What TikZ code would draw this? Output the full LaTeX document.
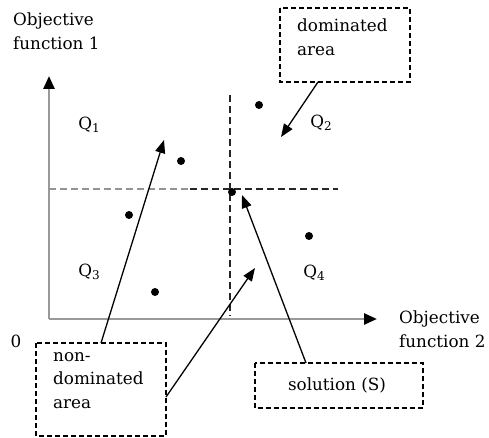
\documentclass[tikz,border=0pt]{standalone}
\usepackage{fontspec}
\setmainfont{DejaVu Serif}
\usetikzlibrary{arrows.meta}
\begin{document}
\begin{tikzpicture}[x=1pt,y=-1pt,
  lbl/.style={font=\fontsize{16.8}{23.5}\selectfont, inner sep=0pt, align=left},
  box/.style={draw, dash pattern=on 5pt off 3pt, line width=1.2pt},
  axis/.style={draw=gray!80, line width=2.6pt, -{Triangle[length=13pt,width=11pt,fill=black,color=black]}},
  ptr/.style={line width=1.3pt, -{Triangle[length=13pt,width=10pt]}},
  dot/.style={circle, fill=black, inner sep=0pt, minimum size=8pt},
  gdash/.style={draw=gray!85, line width=2pt, dash pattern=on 7pt off 4pt},
  kdash/.style={draw=black!85, line width=1.5pt, dash pattern=on 7pt off 4pt}]
\useasboundingbox (0,0) rectangle (489,438);
% axes
\coordinate (O) at (49,319);
\coordinate (Ytop) at (49,76);
\coordinate (Xend) at (377,319);
\draw[axis] (O) -- (Ytop);
\draw[axis] (O) -- (Xend);
% dashed lines
\coordinate (h0) at (49,189);
\coordinate (h1) at (190,189);
\coordinate (h2) at (338,189);
\coordinate (v0) at (230,95);
\coordinate (v1) at (230,316);
\draw[gdash] (h0) -- (h1);
\draw[kdash] (h1) -- (h2);
\draw[kdash] (v0) -- (v1);
% texts
\node[lbl, anchor=north west] (of1) at (13,13) {Objective\\function 1};
\node[lbl, anchor=north west] (of2) at (399,311) {Objective\\function 2};
\node[lbl] (zero) at (16,341) {0};
\node[lbl] (q1) at (89,125) {Q\raisebox{-0.35ex}{\fontsize{12}{12}\selectfont 1}};
\node[lbl] (q2) at (321,123) {Q\raisebox{-0.35ex}{\fontsize{12}{12}\selectfont 2}};
\node[lbl] (q3) at (89,272) {Q\raisebox{-0.35ex}{\fontsize{12}{12}\selectfont 3}};
\node[lbl] (q4) at (314,273) {Q\raisebox{-0.35ex}{\fontsize{12}{12}\selectfont 4}};
% points
\node[dot] (p1) at (181,161) {};
\node[dot] (p2) at (259,105) {};
\node[dot] (p3) at (129,215) {};
\node[dot] (p4) at (309,236) {};
\node[dot] (p5) at (155,292) {};
\node[dot] (S) at (232,192) {};
% boxes
\draw[box] (280,8) rectangle (410,82);
\node[lbl, anchor=north west] (dom) at (297,19) {dominated\\area};
\draw[box] (36,343) rectangle (166,436);
\node[lbl, anchor=north west] (ndom) at (53,352) {non-\\dominated\\area};
\draw[box] (255,363) rectangle (423,408);
\node[lbl] (sol) at (337,385) {solution (S)};
% pointer coordinates
\coordinate (d0) at (318,82);
\coordinate (d1) at (281,137);
\coordinate (n0) at (101,343);
\coordinate (n1) at (164,140);
\coordinate (m0) at (166,397);
\coordinate (m1) at (255,268);
\coordinate (s0) at (306,363);
\coordinate (s1) at (242,195);
\draw[ptr] (d0) -- (d1);
\draw[ptr] (n0) -- (n1);
\draw[ptr] (m0) -- (m1);
\draw[ptr] (s0) -- (s1);
\end{tikzpicture}
\end{document}
